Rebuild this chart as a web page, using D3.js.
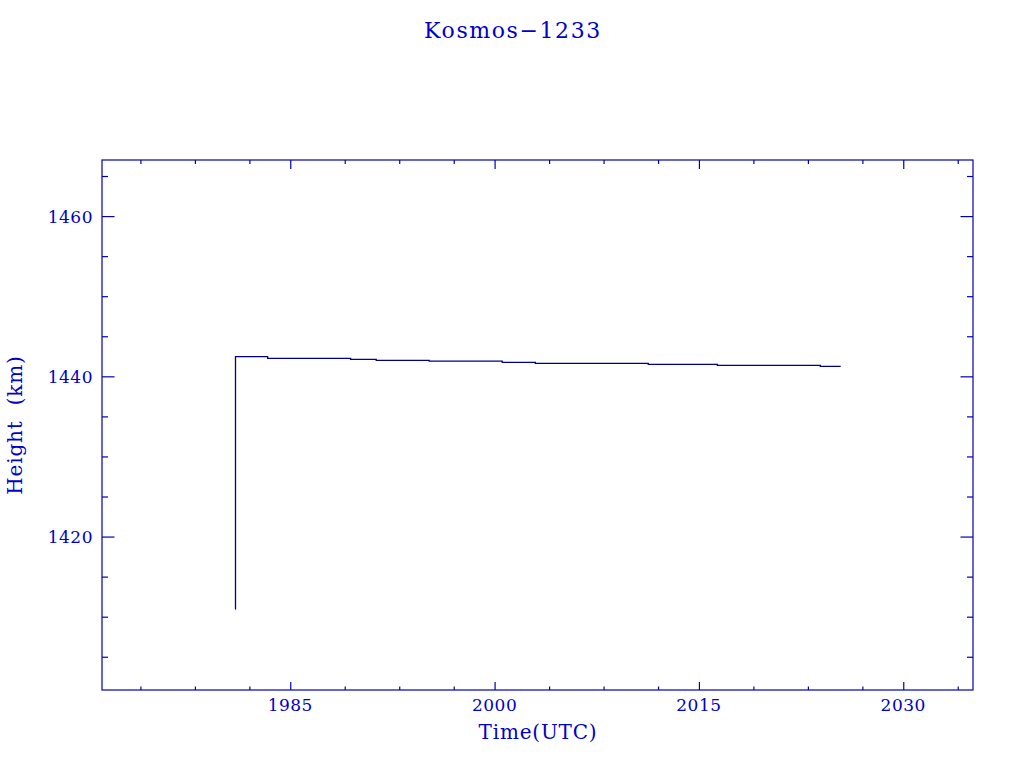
<!DOCTYPE html>
<html><head><meta charset="utf-8">
<script src="https://cdn.jsdelivr.net/npm/d3@7"></script>
<style>body{margin:0;background:#fff;} text{font-family:"DejaVu Serif","Liberation Serif",serif;}</style>
</head><body>
<svg id="c" width="1024" height="768"></svg>
<script>
const title = "Kosmos\u22121233";
const years =   [1980.96, 1980.98, 1983.34, 1989.43, 1991.31, 1995.20, 2000.56, 2002.99, 2011.28, 2016.35, 2023.91, 2025.41];
const heights = [1410.95, 1442.45, 1442.25, 1442.12, 1442.00, 1441.90, 1441.75, 1441.62, 1441.50, 1441.37, 1441.25, 1441.25];
const xMajor = [1985, 2000, 2015, 2030];
const xMinor = [1974, 1978, 1982, 1989, 1993, 1997, 2004, 2008, 2012, 2019, 2023, 2027, 2034];
const yMajor = [1420, 1440, 1460];
const yMinor = [1405, 1410, 1415, 1425, 1430, 1435, 1445, 1450, 1455, 1465];

const L = 102, R = 973, T = 160, B = 690;
const axisCol = "#0000b0", textCol = "#0000c8", lineCol = "#000088";
const x = d3.scaleLinear().domain([1971.18, 2035.12]).range([L, R]);
const y = d3.scaleLinear().domain([1400.85, 1467.0]).range([B, T]);
const svg = d3.select("#c");

// frame
svg.append("rect").attr("x", L).attr("y", T).attr("width", R - L).attr("height", B - T)
  .attr("fill", "none").attr("stroke", axisCol).attr("stroke-width", 1.2);

function ticks(axisGen, transform, len, vals) {
  const g = svg.append("g").attr("transform", transform)
    .call(axisGen.tickValues(vals).tickSize(len).tickFormat(""));
  g.select(".domain").remove();
  g.selectAll("line").attr("stroke", axisCol).attr("stroke-width", 1.2);
  return g;
}
// x ticks (inward)
ticks(d3.axisTop(x), `translate(0,${B})`, 8, xMajor);
ticks(d3.axisTop(x), `translate(0,${B})`, 3.5, xMinor);
ticks(d3.axisBottom(x), `translate(0,${T})`, 9, xMajor);
ticks(d3.axisBottom(x), `translate(0,${T})`, 4, xMinor);
// y ticks (inward)
ticks(d3.axisRight(y), `translate(${L},0)`, 12.5, yMajor);
ticks(d3.axisRight(y), `translate(${L},0)`, 6, yMinor);
ticks(d3.axisLeft(y), `translate(${R},0)`, 12.5, yMajor);
ticks(d3.axisLeft(y), `translate(${R},0)`, 6, yMinor);

// tick labels
svg.append("g").selectAll("text").data(xMajor).join("text")
  .attr("x", d => x(d)).attr("y", 711).attr("text-anchor", "middle")
  .attr("font-size", 17).attr("letter-spacing", 0.5).attr("fill", textCol).text(d => d);
svg.append("g").selectAll("text").data(yMajor).join("text")
  .attr("x", 93).attr("y", d => y(d) + 6.5).attr("text-anchor", "end")
  .attr("font-size", 17).attr("letter-spacing", 0.5).attr("fill", textCol).text(d => d);

// titles
svg.append("text").attr("x", 513).attr("y", 38).attr("text-anchor", "middle")
  .attr("font-size", 22).attr("letter-spacing", 1.6).attr("fill", textCol).text(title);
svg.append("text").attr("x", 538).attr("y", 739).attr("text-anchor", "middle")
  .attr("font-size", 20).attr("letter-spacing", 0.8).attr("fill", textCol).text("Time(UTC)");
svg.append("text").attr("transform", "translate(22,425) rotate(-90)").attr("text-anchor", "middle")
  .attr("font-size", 20).attr("letter-spacing", 0.8).attr("word-spacing", 8).attr("fill", textCol).text("Height (km)");

// data line
const pts = years.map((v, i) => [v, heights[i]]);
svg.append("path").datum(pts)
  .attr("d", d3.line().x(d => x(d[0])).y(d => y(d[1])).curve(d3.curveStepAfter))
  .attr("fill", "none").attr("stroke", lineCol).attr("stroke-width", 1.3);
</script>
</body></html>
